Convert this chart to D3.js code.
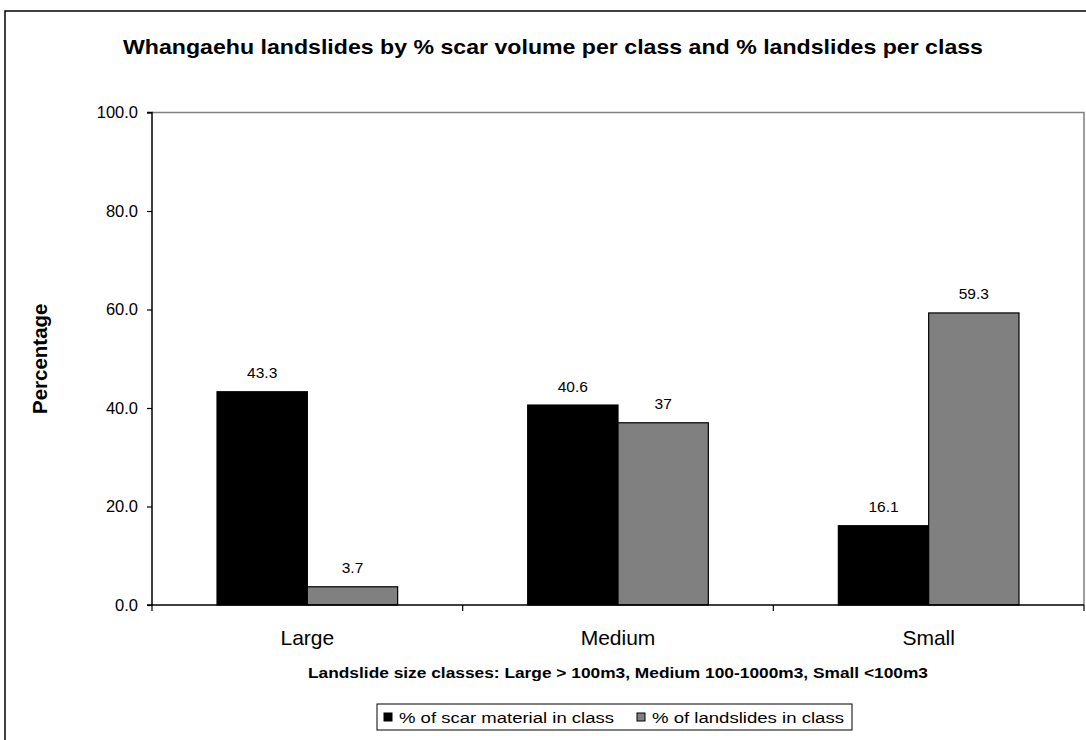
<!DOCTYPE html>
<html><head><meta charset="utf-8">
<script src="https://cdn.jsdelivr.net/npm/d3@7"></script>
<style>
html,body{margin:0;padding:0;background:#fff;}
svg{display:block;font-family:"Liberation Sans",Arial,sans-serif;}
</style></head>
<body>
<svg id="chart" width="1086" height="740"></svg>
<script>
const categories = ["Large", "Medium", "Small"];
const seriesNames = ["% of scar material in class", "% of landslides in class"];
const scarMaterial = [43.3, 40.6, 16.1];
const landslides = [3.7, 37, 59.3];
const valueLabels = [["43.3", "40.6", "16.1"], ["3.7", "37", "59.3"]];
const yTicks = [0, 20, 40, 60, 80, 100];
const titleText = "Whangaehu landslides by % scar volume per class and % landslides per class";
const yTitle = "Percentage";
const xTitle = "Landslide size classes: Large > 100m3, Medium 100-1000m3, Small <100m3";
const seriesColors = ["#000000", "#808080"];

const svg = d3.select("#chart");
const m = {left: 152, right: 1084, top: 112.5, bottom: 605};

// outer chart frame
svg.append("rect").attr("x", 5).attr("y", 11).attr("width", 1200).attr("height", 800)
  .attr("fill", "#fff").attr("stroke", "#000").attr("stroke-width", 1.5);

const x = d3.scaleBand().domain(categories).range([m.left, m.right]).paddingInner(0).paddingOuter(0);
const x1 = d3.scaleBand().domain([0, 1]).range([0, x.bandwidth()]).paddingInner(0).paddingOuter(0.72);
const y = d3.scaleLinear().domain([0, 100]).range([m.bottom, m.top]);

// plot area border (top and right grey)
svg.append("path").attr("d", `M${m.left},${m.top}H${m.right}V${m.bottom}`)
  .attr("fill", "none").attr("stroke", "#808080").attr("stroke-width", 1.5);

const series = [scarMaterial, landslides];
const g = svg.append("g");
series.forEach((vals, si) => {
  g.selectAll(null).data(vals).enter().append("rect")
    .attr("x", (d, i) => x(categories[i]) + x1(si))
    .attr("y", d => y(d))
    .attr("width", x1.bandwidth())
    .attr("height", d => y(0) - y(d))
    .attr("fill", seriesColors[si])
    .attr("stroke", "#000").attr("stroke-width", 1.2);
  g.selectAll(null).data(vals).enter().append("text")
    .attr("x", (d, i) => x(categories[i]) + x1(si) + x1.bandwidth() / 2)
    .attr("y", d => y(d) - 13.5)
    .attr("text-anchor", "middle").attr("font-size", 15.5).attr("fill", "#000")
    .text((d, i) => valueLabels[si][i]);
});

// y axis
const yAxis = d3.axisLeft(y).tickValues(yTicks).tickSize(5).tickPadding(9).tickFormat(d3.format(".1f"));
const ya = svg.append("g").attr("transform", `translate(${m.left},0)`).call(yAxis);
ya.select(".domain").attr("stroke", "#000").attr("stroke-width", 1.5).attr("d", `M-5,${m.top}H0V${m.bottom}H-5`);
ya.selectAll(".tick line").attr("stroke", "#000").attr("stroke-width", 1.2);
ya.selectAll(".tick text").attr("font-size", 16.5).attr("font-family", "Liberation Sans, Arial, sans-serif").attr("fill", "#000");

// x axis
const boundaries = [m.left, ...categories.map(c => x(c) + x.bandwidth())];
const xa = svg.append("g");
xa.append("line").attr("x1", m.left).attr("x2", m.right).attr("y1", m.bottom).attr("y2", m.bottom)
  .attr("stroke", "#000").attr("stroke-width", 1.5);
xa.selectAll(null).data(boundaries).enter().append("line")
  .attr("x1", d => d).attr("x2", d => d).attr("y1", m.bottom).attr("y2", m.bottom + 6)
  .attr("stroke", "#000").attr("stroke-width", 1.2);
xa.selectAll(null).data(categories).enter().append("text")
  .attr("x", d => x(d) + x.bandwidth() / 2).attr("y", 645)
  .attr("text-anchor", "middle").attr("font-size", 21).text(d => d);

// titles
svg.append("text").attr("x", 553).attr("y", 54).attr("text-anchor", "middle")
  .attr("font-size", 20.5).attr("font-weight", "bold")
  .attr("textLength", 860).attr("lengthAdjust", "spacingAndGlyphs").text(titleText);
svg.append("text").attr("x", (m.left + m.right) / 2).attr("y", 678).attr("text-anchor", "middle")
  .attr("font-size", 14.5).attr("font-weight", "bold")
  .attr("textLength", 620).attr("lengthAdjust", "spacingAndGlyphs").text(xTitle);
svg.append("text").attr("transform", `translate(47,${(m.top + m.bottom) / 2}) rotate(-90)`)
  .attr("text-anchor", "middle").attr("font-size", 20.5).attr("font-weight", "bold")
  .text(yTitle);

// legend
const lg = svg.append("g");
lg.append("rect").attr("x", 377).attr("y", 704).attr("width", 475).attr("height", 26)
  .attr("fill", "#fff").attr("stroke", "#000").attr("stroke-width", 1);
const legendX = [384, 637];
const legendLen = [215, 192];
seriesNames.forEach((name, i) => {
  lg.append("rect").attr("x", legendX[i]).attr("y", 713).attr("width", 8).attr("height", 8)
    .attr("fill", seriesColors[i]).attr("stroke", "#000").attr("stroke-width", 1);
  lg.append("text").attr("x", legendX[i] + 15).attr("y", 722.5).attr("font-size", 15.5)
    .attr("textLength", legendLen[i]).attr("lengthAdjust", "spacingAndGlyphs").text(name);
});
</script>
</body></html>
